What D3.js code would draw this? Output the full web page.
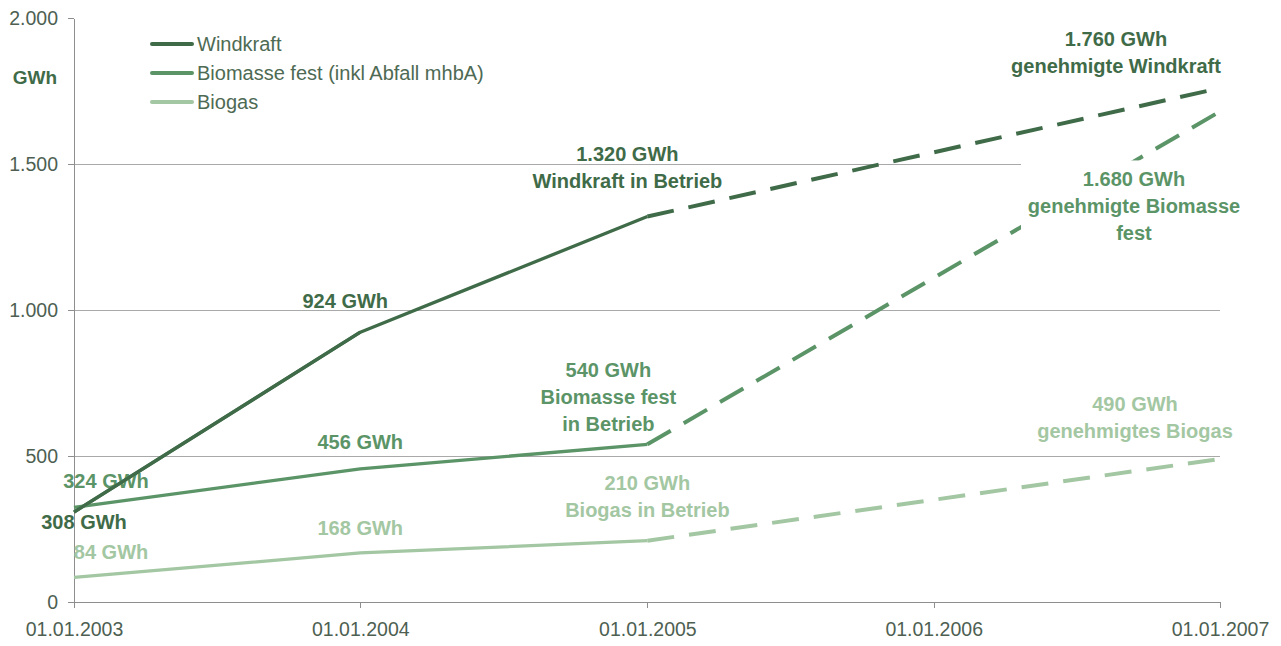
<!DOCTYPE html>
<html>
<head>
<meta charset="utf-8">
<script src="https://cdn.jsdelivr.net/npm/d3@7/dist/d3.min.js"></script>
<style>
  html, body { margin: 0; padding: 0; background: #fff; }
  svg { display: block; }
  text { font-family: "Liberation Sans", Arial, sans-serif; }
</style>
</head>
<body>
<svg id="chart" width="1281" height="646"></svg>
<script>
// Stichtage (x-Achse) und Achsbeschriftungen
const tickDates = ["2003-01-01", "2004-01-01", "2005-01-01", "2006-01-01", "2007-01-01"];
const tickLabels = ["01.01.2003", "01.01.2004", "01.01.2005", "01.01.2006", "01.01.2007"];
const yTicks = [0, 500, 1000, 1500, 2000];

// In Betrieb (durchgezogen) 2003-2005
const betriebDates = ["2003-01-01", "2004-01-01", "2005-01-01"];
const windkraft = [308, 924, 1320];
const biomasse = [324, 456, 540];
const biogas = [84, 168, 210];

// Genehmigt (gestrichelt) bis 01.01.2007
const genehmigtDate = "2007-01-01";
const windkraftGenehmigt = 1760;
const biomasseGenehmigt = 1680;
const biogasGenehmigt = 490;

const seriesNames = ["Windkraft", "Biomasse fest (inkl Abfall mhbA)", "Biogas"];
const colors = ["#3f6b48", "#5b9467", "#a3c7a2"];

const parse = d3.timeParse("%Y-%m-%d");
const svg = d3.select("#chart");

const x = d3.scaleTime()
  .domain([parse(tickDates[0]), parse(tickDates[tickDates.length - 1])])
  .range([74, 1220]);
const y = d3.scaleLinear().domain([0, 2000]).range([602, 18]);

const de = d3.formatLocale({ decimal: ",", thousands: ".", grouping: [3], currency: ["", " €"] });
const fmt = de.format(",d");

// Gitternetzlinien
svg.append("g").selectAll("line")
  .data(yTicks.filter(v => v > 0 && v < 2000))
  .join("line")
  .attr("x1", x.range()[0]).attr("x2", x.range()[1])
  .attr("y1", d => y(d)).attr("y2", d => y(d))
  .attr("stroke", "#a9a9a9").attr("stroke-width", 1)
  .attr("shape-rendering", "crispEdges");

// y-Achse
const yAxis = svg.append("g")
  .attr("transform", `translate(${x.range()[0]},0)`)
  .call(d3.axisLeft(y).tickValues(yTicks).tickFormat(fmt).tickSize(6).tickSizeOuter(0).tickPadding(10));
// x-Achse
const xAxis = svg.append("g")
  .attr("transform", `translate(0,${y(0)})`)
  .call(d3.axisBottom(x).tickValues(tickDates.map(parse))
    .tickFormat((d, i) => tickLabels[i]).tickSize(6).tickSizeOuter(0).tickPadding(14));

[yAxis, xAxis].forEach(ax => {
  ax.selectAll(".domain").attr("stroke", "#8e8e8e").attr("shape-rendering", "crispEdges");
  ax.selectAll(".tick line").attr("stroke", "#8e8e8e").attr("shape-rendering", "crispEdges");
  ax.selectAll(".tick text")
    .attr("fill", "#4e5f52")
    .style("font-size", "19.5px")
    .style("font-family", "'Liberation Sans', Arial, sans-serif");
});

// Einheit
svg.append("text")
  .attr("x", 35).attr("y", 84)
  .attr("text-anchor", "middle")
  .attr("fill", colors[0])
  .style("font-size", "19px").style("font-weight", "bold")
  .text("GWh");

// Linien
const line = d3.line().x(d => x(d[0])).y(d => y(d[1]));
const allSeries = [
  { vals: windkraft, target: windkraftGenehmigt },
  { vals: biomasse, target: biomasseGenehmigt },
  { vals: biogas, target: biogasGenehmigt }
];

const linesG = svg.append("g");
allSeries.forEach((s, i) => {
  const pts = betriebDates.map((d, j) => [parse(d), s.vals[j]]);
  const last = pts[pts.length - 1];
  linesG.append("path")
    .attr("d", line([last, [parse(genehmigtDate), s.target]]))
    .attr("fill", "none")
    .attr("stroke", colors[i])
    .attr("stroke-width", 4)
    .attr("stroke-dasharray", "27 15");
  linesG.append("path")
    .attr("d", line(pts))
    .attr("fill", "none")
    .attr("stroke", colors[i])
    .attr("stroke-width", 3.3)
    .attr("stroke-linejoin", "round");
});

// Beschriftungen
const labelG = svg.append("g")
  .style("font-size", "20px").style("font-weight", "bold")
  .attr("text-anchor", "middle");

function label(date, value, dx, dys, lines, color, box) {
  const px = x(parse(date)), py = y(value);
  if (box) {
    labelG.append("rect")
      .attr("x", px + box[0]).attr("y", py + box[1])
      .attr("width", box[2]).attr("height", box[3])
      .attr("fill", "#fff");
  }
  lines.forEach((t, k) => {
    labelG.append("text")
      .attr("x", px + dx).attr("y", py + dys[k])
      .attr("fill", color)
      .text(t);
  });
}

const gwh = v => fmt(v) + " GWh";

// Windkraft
label(betriebDates[0], windkraft[0], 10, [17], [gwh(windkraft[0])], colors[0]);
label(betriebDates[1], windkraft[1], -15, [-24], [gwh(windkraft[1])], colors[0]);
label(betriebDates[2], windkraft[2], -20, [-56, -29], [gwh(windkraft[2]), "Windkraft in Betrieb"], colors[0]);
label(genehmigtDate, windkraftGenehmigt, -104, [-42, -15], [gwh(windkraftGenehmigt), "genehmigte Windkraft"], colors[0]);

// Biomasse fest
label(betriebDates[0], biomasse[0], 32, [-19], [gwh(biomasse[0])], colors[1]);
label(betriebDates[1], biomasse[1], 0, [-20], [gwh(biomasse[1])], colors[1]);
label(betriebDates[2], biomasse[2], -39, [-67, -40, -13], [gwh(biomasse[2]), "Biomasse fest", "in Betrieb"], colors[1]);
label(genehmigtDate, biomasseGenehmigt, -86, [75, 102, 129],
  [gwh(biomasseGenehmigt), "genehmigte Biomasse", "fest"], colors[1], [-199, 49, 230, 88]);

// Biogas
label(betriebDates[0], biogas[0], 37, [-18], [gwh(biogas[0])], colors[2]);
label(betriebDates[1], biogas[1], 0, [-18], [gwh(biogas[1])], colors[2]);
label(betriebDates[2], biogas[2], 0, [-51, -24], [gwh(biogas[2]), "Biogas in Betrieb"], colors[2]);
label(genehmigtDate, biogasGenehmigt, -85, [-48, -21], [gwh(biogasGenehmigt), "genehmigtes Biogas"], colors[2]);

// Windkraft-Linie über den Beschriftungen, wo sie sich kreuzen
svg.append("path")
  .attr("d", line(betriebDates.slice(0, 2).map((d, j) => [parse(d), windkraft[j]])))
  .attr("fill", "none").attr("stroke", colors[0]).attr("stroke-width", 3.3);

// Legende
const legend = svg.append("g").attr("transform", "translate(150,44)");
seriesNames.forEach((name, i) => {
  const g = legend.append("g").attr("transform", `translate(0,${i * 29})`);
  g.append("line").attr("x1", 2).attr("x2", 42).attr("y1", 0).attr("y2", 0)
    .attr("stroke", colors[i]).attr("stroke-width", 4).attr("stroke-linecap", "round");
  g.append("text").attr("x", 47).attr("y", 7)
    .attr("fill", "#4e6a54")
    .style("font-size", "20px")
    .text(name);
});
</script>
</body>
</html>
